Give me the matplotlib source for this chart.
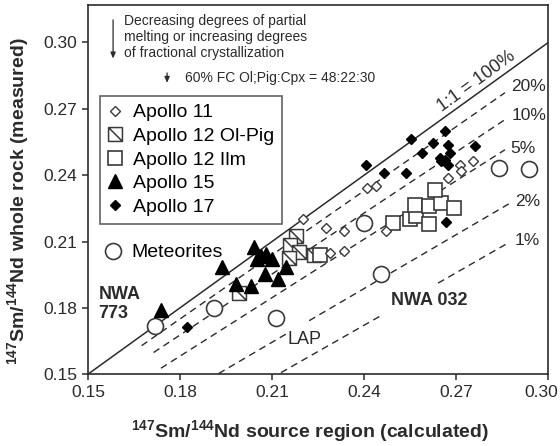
import matplotlib
matplotlib.use("Agg")
import matplotlib.pyplot as plt
from matplotlib.path import Path
from matplotlib.transforms import ScaledTranslation

plt.rcParams["font.family"] = ["Liberation Sans", "DejaVu Sans"]
plt.rcParams["mathtext.fontset"] = "custom"
plt.rcParams["mathtext.rm"] = "Liberation Sans"
plt.rcParams["mathtext.bf"] = "Liberation Sans:bold"

# --- data (source vs measured 147Sm/144Nd) ---
a11_x = [0.2202, 0.2276, 0.2290, 0.2333, 0.2336, 0.2409, 0.2439, 0.2472,
         0.2673, 0.2711, 0.2717, 0.2755]
a11_y = [0.2200, 0.2159, 0.2047, 0.2057, 0.2148, 0.2343, 0.2350, 0.2149,
         0.2388, 0.2447, 0.2417, 0.2462]

a12op_x = [0.2179, 0.2158, 0.2189, 0.2154, 0.2238, 0.1992]
a12op_y = [0.2124, 0.2083, 0.2054, 0.2024, 0.2038, 0.1867]

a12ilm_x = [0.2257, 0.2493, 0.2548, 0.2570, 0.2566, 0.2611, 0.2652, 0.2694,
            0.2631, 0.2610]
a12ilm_y = [0.2040, 0.2183, 0.2204, 0.2217, 0.2263, 0.2260, 0.2274, 0.2250,
            0.2333, 0.2179]

a15_x = [0.1737, 0.1938, 0.2042, 0.2063, 0.2080, 0.2100, 0.2052, 0.2145,
         0.2077, 0.2118, 0.1983, 0.2032]
a15_y = [0.1792, 0.1983, 0.2076, 0.2033, 0.2042, 0.2022, 0.2020, 0.1985,
         0.1954, 0.1931, 0.1906, 0.1899]

a17_x = [0.2407, 0.2466, 0.2537, 0.2554, 0.2590, 0.2624, 0.2662, 0.2673,
         0.2760, 0.2646, 0.2662, 0.2681, 0.2673, 0.2652, 0.2668, 0.1823]
a17_y = [0.2447, 0.2412, 0.2412, 0.2564, 0.2500, 0.2545, 0.2601, 0.2538,
         0.2533, 0.2479, 0.2469, 0.2500, 0.2447, 0.2462, 0.2186, 0.1715]

met_x = [0.1720, 0.1910, 0.2112, 0.2456, 0.2401, 0.2840, 0.2938]
met_y = [0.1720, 0.1800, 0.1753, 0.1951, 0.2183, 0.2432, 0.2427]

# partial-melting curves: (label, list of segments x0, y0, x1, y1)
melt_labels = ["20%", "10%", "5%", "2%", "1%"]
melt_segments = [
    [(0.1675, 0.1629, 0.2859, 0.2773)],
    [(0.1714, 0.1598, 0.2859, 0.2651)],
    [(0.1738, 0.1527, 0.2859, 0.2515)],
    [(0.1926, 0.1503, 0.2156, 0.1690), (0.2221, 0.1742, 0.2875, 0.2273)],
    [(0.2129, 0.1507, 0.2450, 0.1761), (0.2641, 0.1912, 0.2875, 0.2098)],
]
melt_label_x = [0.2880, 0.2880, 0.2875, 0.2891, 0.2891]
melt_label_y = [0.2803, 0.2672, 0.2519, 0.2281, 0.2106]

one_to_one = [0.15, 0.30]
ticks = [0.15, 0.18, 0.21, 0.24, 0.27, 0.30]

# square with a "\" diagonal for the Ol-Pig samples
olpig_marker = Path(
    [(-1, -1), (1, -1), (1, 1), (-1, 1), (-1, -1), (-1, 1), (1, -1)],
    [Path.MOVETO, Path.LINETO, Path.LINETO, Path.LINETO, Path.CLOSEPOLY,
     Path.MOVETO, Path.LINETO])

fig = plt.figure(figsize=(5.6, 4.46), dpi=100)
ax = fig.add_axes([0.157, 0.161, 0.822, 0.828])

ink = "#2b2b2b"
edge = "#3a3a3a"

ax.plot(one_to_one, one_to_one, color=ink, lw=1.1, zorder=2)
for segs in melt_segments:
    for x0, y0, x1, y1 in segs:
        ax.plot([x0, x1], [y0, y1], color=ink, lw=1.0, dashes=(5, 3.5), zorder=2)
for lab, lx, ly in zip(melt_labels, melt_label_x, melt_label_y):
    ax.text(lx, ly, lab, fontsize=12.5, ha="left", va="center", color=ink)

ax.text(0.2765, 0.2825, "1:1 = 100%", fontsize=13, rotation=36,
        ha="center", va="center", rotation_mode="anchor", color=ink)

h11, = ax.plot(a11_x, a11_y, ls="none", marker="D", ms=4.7, mfc="white",
               mec=edge, mew=1.0, zorder=4, label="Apollo 11")
h12op, = ax.plot(a12op_x, a12op_y, ls="none", marker=olpig_marker, ms=10,
                 mfc="white", mec=edge, mew=1.1, zorder=3,
                 label="Apollo 12 Ol-Pig")
h12i, = ax.plot(a12ilm_x, a12ilm_y, ls="none", marker="s", ms=10,
                mfc="white", mec=edge, mew=1.2, zorder=3, label="Apollo 12 Ilm")
h15, = ax.plot(a15_x, a15_y, ls="none", marker="^", ms=10, mfc="black",
               mec="black", zorder=5, label="Apollo 15")
h17, = ax.plot(a17_x, a17_y, ls="none", marker="D", ms=5.5, mfc="black",
               mec="black", zorder=5, label="Apollo 17")
hmet, = ax.plot(met_x, met_y, ls="none", marker="o", ms=11.5, mfc="white",
                mec=edge, mew=1.2, zorder=4, label="Meteorites")

leg = ax.legend(handles=[h11, h12op, h12i, h15, h17], loc="upper left",
                bbox_to_anchor=(0.026, 0.7534), borderaxespad=0,
                fontsize=14, frameon=True, fancybox=False, edgecolor=edge,
                handlelength=0.8, handletextpad=0.5, labelspacing=0.31,
                borderpad=0.4, numpoints=1)
leg.get_frame().set_linewidth(1.2)
ax.add_artist(leg)
ax.legend(handles=[hmet], loc="upper left", bbox_to_anchor=(0.026, 0.369),
          borderaxespad=0, fontsize=14, frameon=False, handlelength=0.8,
          handletextpad=0.5, borderpad=0.3, numpoints=1)

ax.text(0.1535, 0.1817, "NWA\n773", fontsize=13, fontweight="bold",
        ha="left", va="center", linespacing=1.15, color=ink)
ax.text(0.2488, 0.1833, "NWA 032", fontsize=13, fontweight="bold",
        ha="left", va="center", color=ink)
ax.text(0.2149, 0.1658, "LAP", fontsize=13, ha="left", va="center", color=ink)

ax.text(0.1619, 0.3026,
        "Decreasing degrees of partial\nmelting or increasing degrees\n"
        "of fractional crystallization",
        fontsize=10, ha="left", va="center", linespacing=1.2, color=ink)
ax.annotate("", xy=(0.1582, 0.2915), xytext=(0.1582, 0.3115),
            arrowprops=dict(arrowstyle="-|>,head_length=0.35,head_width=0.15",
                            color=ink, lw=0.9))
ax.annotate("", xy=(0.1758, 0.2805), xytext=(0.1758, 0.2875),
            arrowprops=dict(arrowstyle="-|>,head_length=0.35,head_width=0.15",
                            color=ink, lw=0.9))
ax.text(0.1816, 0.2838, "60% FC Ol;Pig:Cpx = 48:22:30", fontsize=10,
        ha="left", va="center", color=ink)

ax.set_xlim(0.15, 0.30)
ax.set_ylim(0.15, 0.317)
ax.set_xticks(ticks)
ax.set_yticks(ticks)
ax.set_xticklabels([f"{t:.2f}" for t in ticks])
ax.set_yticklabels([f"{t:.2f}" for t in ticks])
ax.tick_params(direction="out", length=4, width=1.1, labelsize=12.5,
               colors=ink)
for s in ax.spines.values():
    s.set_linewidth(1.2)
    s.set_color(ink)

# keep the last x tick label inside the canvas (it sits at the right edge)
last = ax.get_xticklabels()[-1]
last.set_horizontalalignment("right")
last.set_transform(last.get_transform()
                   + ScaledTranslation(10 / 100, 0, fig.dpi_scale_trans))

ax.set_xlabel(r"$^{\mathbf{147}}$Sm/$^{\mathbf{144}}$Nd source region (calculated)",
              fontsize=14, fontweight="bold", color=ink)
ax.set_ylabel(r"$^{\mathbf{147}}$Sm/$^{\mathbf{144}}$Nd whole rock (measured)",
              fontsize=14, fontweight="bold", color=ink)
ax.xaxis.set_label_coords(0.483, -0.12)
ax.yaxis.set_label_coords(-0.122, 0.469)

fig.savefig("out.png", dpi=100)
